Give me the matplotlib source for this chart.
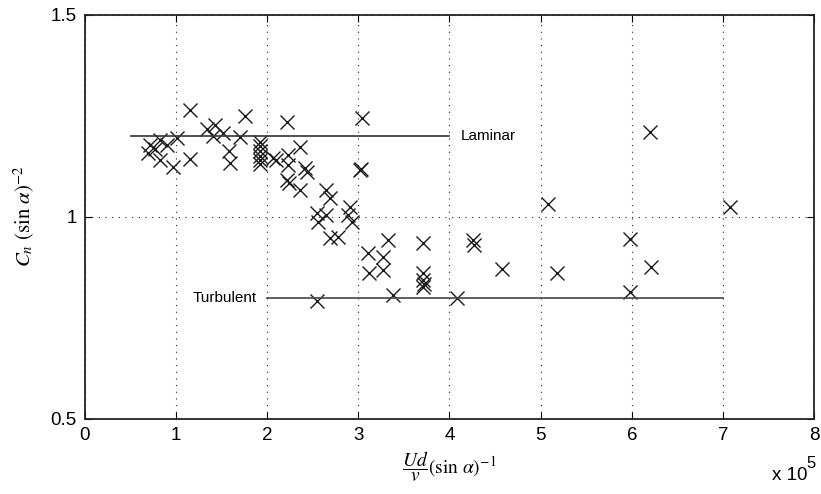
import matplotlib.pyplot as plt

plt.rcParams['font.family'] = ['Liberation Sans', 'DejaVu Sans']
plt.rcParams['mathtext.fontset'] = 'stix'

# Reynolds number based on normal velocity (units of 1e5) and normal force coefficient
re_n = [1.15, 1.76, 2.22, 0.82, 1.01, 1.34, 1.43, 1.51, 1.40, 1.70,
        0.71, 0.77, 0.69, 0.90, 0.82, 0.97, 1.15, 1.58, 1.59,
        1.92, 1.92, 1.92, 1.92, 1.92, 1.92, 2.06, 2.10, 2.23, 2.23,
        2.36, 2.41, 2.44, 2.22, 2.24, 2.36, 3.04, 3.02, 3.03,
        2.65, 2.69, 2.55, 2.56, 2.65, 2.91, 2.89, 2.93, 2.69, 2.78,
        3.11, 3.12, 3.27, 3.27, 3.33, 3.71, 3.71, 3.71, 3.72, 3.71,
        3.38, 2.55, 4.08, 4.26, 4.27, 4.58,
        6.20, 5.08, 7.08, 5.98, 5.18, 6.21, 5.98]
cn = [1.265, 1.25, 1.235, 1.19, 1.195, 1.218, 1.228, 1.208, 1.20, 1.198,
      1.178, 1.168, 1.158, 1.178, 1.141, 1.124, 1.144, 1.163, 1.134,
      1.186, 1.175, 1.162, 1.15, 1.14, 1.13, 1.146, 1.141, 1.153, 1.129,
      1.173, 1.121, 1.111, 1.092, 1.084, 1.067, 1.245, 1.116, 1.118,
      1.067, 1.047, 1.01, 0.988, 1.005, 1.025, 1.005, 0.988, 0.948, 0.95,
      0.911, 0.861, 0.901, 0.869, 0.943, 0.936, 0.861, 0.844, 0.835, 0.827,
      0.807, 0.792, 0.80, 0.943, 0.931, 0.871,
      1.21, 1.032, 1.025, 0.946, 0.861, 0.876, 0.814]
cn_laminar = 1.2
cn_turbulent = 0.8

fig = plt.figure(figsize=(8.21, 4.94), dpi=100)
ax = fig.add_axes([0.1035, 0.152, 0.888, 0.818])

ax.plot(re_n, cn, 'x', color='#1a1a1a', markersize=10, markeredgewidth=1.0)
ax.plot([0.5, 4.0], [cn_laminar, cn_laminar], '-', color='#333333', lw=1.2)
ax.plot([2.0, 7.0], [cn_turbulent, cn_turbulent], '-', color='#444444', lw=1.2)
ax.text(4.12, cn_laminar, 'Laminar', ha='left', va='center', fontsize=11)
ax.text(1.88, cn_turbulent, 'Turbulent', ha='right', va='center', fontsize=11)

ax.set_xlim(0, 8)
ax.set_ylim(0.5, 1.5)
ax.set_xticks(range(9))
ax.set_yticks([0.5, 1, 1.5])
ax.set_yticklabels(['0.5', '1', '1.5'])
ax.tick_params(direction='in', length=5, width=0.8, labelsize=13.5, top=True, right=True, pad=6)
ax.grid(True, linestyle=(0, (1, 5)), color='#222222', linewidth=0.8)
for s in ax.spines.values():
    s.set_linewidth(1.3)
    s.set_color('#222222')

ax.set_xlabel(r'$\dfrac{Ud}{v}(\sin\,\alpha)^{-1}$', fontsize=14, labelpad=4)
ax.set_ylabel(r'$C_n\ (\sin\,\alpha)^{-2}$', fontsize=15, labelpad=10)
fig.text(0.962, 0.028, r'x 10', fontsize=13.5, ha='center', va='baseline')
fig.text(0.988, 0.053, '5', fontsize=12, ha='center', va='baseline')

fig.savefig('out.png', dpi=100)
